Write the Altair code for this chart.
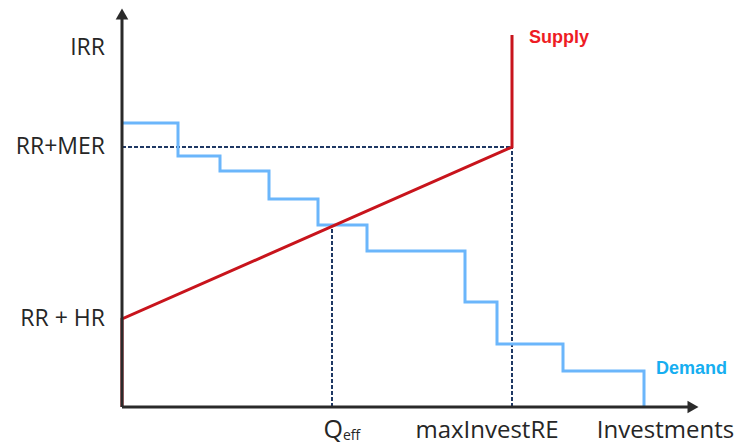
import altair as alt
import pandas as pd

# Demand step curve (investment units, IRR units)
demand_x = [0, 5.6, 5.6, 9.8, 9.8, 14.7, 14.7, 19.6, 19.6, 24.5, 24.5, 34.3, 34.3, 37.5, 37.5, 44.1, 44.1, 52.2, 52.2]
demand_y = [28.4, 28.4, 25.1, 25.1, 23.6, 23.6, 20.8, 20.8, 18.2, 18.2, 15.6, 15.6, 10.5, 10.5, 6.3, 6.3, 3.6, 3.6, 0]

# Supply curve
supply_x = [0, 0, 39.0, 39.0]
supply_y = [0, 8.8, 26.0, 37.2]

rr_mer = 26.0
rr_hr = 8.8
max_invest = 39.0
q_eff = 21.0
q_eff_level = 18.2

x_axis_end = 57.1
y_axis_end = 39.3

FONT = "Open Sans"

xs = alt.Scale(domain=[0, 60], nice=False, zero=False)
ys = alt.Scale(domain=[0, 39.3], nice=False, zero=False)

def X(f="x"):
    return alt.X(f"{f}:Q", scale=xs, axis=None)

def Y(f="y"):
    return alt.Y(f"{f}:Q", scale=ys, axis=None)

demand_df = pd.DataFrame({"x": demand_x, "y": demand_y, "o": range(len(demand_x))})
supply_df = pd.DataFrame({"x": supply_x, "y": supply_y, "o": range(len(supply_x))})

dash_df = pd.DataFrame({
    "x": [0, max_invest, q_eff],
    "x2": [max_invest, max_invest, q_eff],
    "y": [rr_mer, 0, 0],
    "y2": [rr_mer, rr_mer, q_eff_level],
})
dashes = alt.Chart(dash_df).mark_rule(color="#1f3864", strokeDash=[4, 2], strokeWidth=2).encode(
    x=X(), x2="x2:Q", y=Y(), y2="y2:Q"
)

axes_df = pd.DataFrame({"x": [0, 0], "x2": [x_axis_end, 0], "y": [0, 0], "y2": [0, y_axis_end]})
axes = alt.Chart(axes_df).mark_rule(color="#2a2a2a", strokeWidth=3).encode(
    x=X(), x2="x2:Q", y=Y(), y2="y2:Q"
)

arrow_r = alt.Chart(pd.DataFrame({"x": [x_axis_end], "y": [0]})).mark_point(
    shape="triangle-right", filled=True, color="#2a2a2a", size=160, opacity=1
).encode(x=X(), y=Y())
arrow_u = alt.Chart(pd.DataFrame({"x": [0], "y": [y_axis_end]})).mark_point(
    shape="triangle-up", filled=True, color="#2a2a2a", size=160, opacity=1
).encode(x=X(), y=Y())

demand = alt.Chart(demand_df).mark_line(color="#6bb6fb", strokeWidth=3, strokeJoin="miter").encode(
    x=X(), y=Y(), order="o:Q"
)
supply = alt.Chart(supply_df).mark_line(color="#c8141c", strokeWidth=3, strokeJoin="miter").encode(
    x=X(), y=Y(), order="o:Q"
)

ylab_df = pd.DataFrame({"x": [-1.7, -1.7, -1.7], "y": [35.9, rr_mer, rr_hr], "t": ["IRR", "RR+MER", "RR + HR"]})
ylabs = alt.Chart(ylab_df).mark_text(align="right", baseline="middle", fontSize=23, font=FONT, color="#262626").encode(
    x=X(), y=Y(), text="t:N"
)

xlab_df = pd.DataFrame({"x": [36.5, 54.35], "y": [-3.1, -3.1], "t": ["maxInvestRE", "Investments"]})
xlabs = alt.Chart(xlab_df).mark_text(align="center", baseline="alphabetic", fontSize=24, font=FONT, color="#262626").encode(
    x=X(), y=Y(), text="t:N"
)
q_lab = alt.Chart(pd.DataFrame({"x": [22.1], "y": [-3.1], "t": ["Q"]})).mark_text(
    align="right", baseline="alphabetic", fontSize=25, font=FONT, color="#262626"
).encode(x=X(), y=Y(), text="t:N")
eff_lab = alt.Chart(pd.DataFrame({"x": [22.1], "y": [-3.3], "t": ["eff"]})).mark_text(
    align="left", baseline="alphabetic", fontSize=14, font=FONT, color="#262626"
).encode(x=X(), y=Y(), text="t:N")

supply_lab = alt.Chart(pd.DataFrame({"x": [40.7], "y": [36.9], "t": ["Supply"]})).mark_text(
    align="left", baseline="middle", fontSize=18, font="Liberation Sans", fontWeight="bold", color="#ee1c24"
).encode(x=X(), y=Y(), text="t:N")
demand_lab = alt.Chart(pd.DataFrame({"x": [53.4], "y": [3.8], "t": ["Demand"]})).mark_text(
    align="left", baseline="middle", fontSize=18, font="Liberation Sans", fontWeight="bold", color="#16aef0"
).encode(x=X(), y=Y(), text="t:N")

chart = alt.layer(
    dashes, demand, supply, axes, arrow_r, arrow_u, ylabs, xlabs, q_lab, eff_lab, supply_lab, demand_lab
).properties(
    width=600, height=393,
    padding={"left": 114, "top": 6, "right": 12, "bottom": 37},
    autosize=alt.AutoSizeParams(type="none"),
).configure_view(stroke=None)

chart.save("out.html", embed_options={"renderer": "svg", "actions": False})
